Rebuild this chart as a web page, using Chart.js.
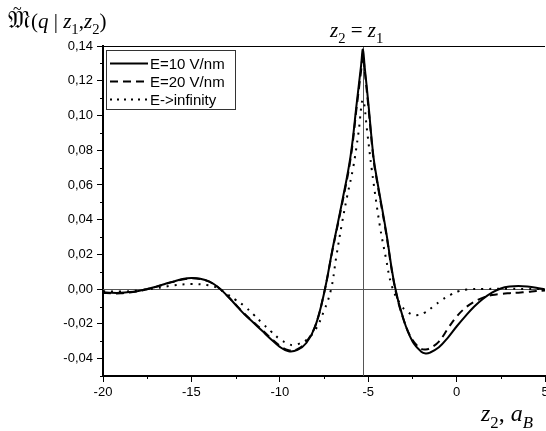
<!DOCTYPE html>
<html>
<head>
<meta charset="utf-8">
<script src="https://cdn.jsdelivr.net/npm/chart.js@4.4.0/dist/chart.umd.min.js"></script>
<style>
    html, body { margin: 0; padding: 0; background: #fff; overflow: hidden; }
</style>
</head>
<body>
<canvas id="grafico" width="560" height="431"></canvas>
<script>
// Datos
const zCurvas = [-20, -19.5, -19, -18.5, -18, -17.5, -17, -16.5, -16, -15.5, -15, -14.5, -14, -13.5, -13, -12.5, -12, -11.5, -11, -10.5, -10, -9.5, -9, -8.5, -8, -7.5, -7, -6.5, -6, -5.65, -5.4, -5.3, -5.2, -5, -4.7, -4.5, -4, -3.5, -3, -2.5, -2, -1.75, -1.5, -1, -0.5, 0, 0.5, 1, 1.5, 2, 2.5, 3, 3.5, 4, 4.5, 5];
const mE10 = [-0.0018, -0.0021, -0.0021, -0.0017, -0.0010, 0.0001, 0.0014, 0.0030, 0.0045, 0.0058, 0.0064, 0.0060, 0.0045, 0.0012, -0.0035, -0.0090, -0.0145, -0.0192, -0.0240, -0.0288, -0.0332, -0.0358, -0.0350, -0.0310, -0.0215, -0.0025, 0.0240, 0.0490, 0.0765, 0.1070, 0.1290, 0.1380, 0.1280, 0.1080, 0.0760, 0.0630, 0.0340, 0.0020, -0.0175, -0.0300, -0.0360, -0.0370, -0.0365, -0.0335, -0.0280, -0.0215, -0.0155, -0.0100, -0.0055, -0.0020, 0.0004, 0.0015, 0.0018, 0.0015, 0.0008, -0.0002];
const mE20 = [-0.0022, -0.0024, -0.0024, -0.0019, -0.0012, 0.0000, 0.0013, 0.0029, 0.0043, 0.0056, 0.0062, 0.0058, 0.0043, 0.0011, -0.0035, -0.0088, -0.0142, -0.0188, -0.0235, -0.0282, -0.0325, -0.0352, -0.0345, -0.0303, -0.0213, -0.0025, 0.0235, 0.0480, 0.0750, 0.1050, 0.1260, 0.1350, 0.1260, 0.1060, 0.0750, 0.0620, 0.0330, 0.0015, -0.0175, -0.0292, -0.0343, -0.0347, -0.0340, -0.0302, -0.0228, -0.0158, -0.0107, -0.0072, -0.0049, -0.0034, -0.0027, -0.0023, -0.0020, -0.0016, -0.0011, -0.0007];
const zInf = [-20, -19, -18, -17, -16, -15, -14, -13.5, -13, -12.5, -12, -11.5, -11, -10.5, -10, -9.5, -9.25, -9, -8.5, -8, -7.5, -7.1, -6.8, -6.5, -6.2, -5.85, -5.55, -5.3, -5.05, -4.8, -4.35, -4, -3.67, -3.2, -2.75, -2.3, -1.8, -1.3, -0.85, -0.35, 0.1, 0.6, 1.5, 3, 4, 5];
const mInf = [-0.0012, -0.0014, -0.0008, 0.0005, 0.0022, 0.0029, 0.0022, 0.0005, -0.0027, -0.0062, -0.0098, -0.0145, -0.0195, -0.0243, -0.0288, -0.0316, -0.0323, -0.0318, -0.0293, -0.0236, -0.0125, 0.0000, 0.0190, 0.0370, 0.0530, 0.0700, 0.0900, 0.1090, 0.0900, 0.0690, 0.0370, 0.0180, 0.0020, -0.0083, -0.0133, -0.0150, -0.0135, -0.0098, -0.0063, -0.0033, -0.0012, -0.0002, 0.0001, 0.0002, 0.0001, 0.0000];
const etiquetas = ['E=10 V/nm', 'E=20 V/nm', 'E->infinity'];
const zPico = -5.3; // posición z2 = z1

const xMin = -20, xMax = 5, xPaso = 5;
const yMin = -0.05, yMax = 0.14, yPaso = 0.02;

function puntos(xs, ys) {
    return xs.map((x, i) => ({ x: x, y: ys[i] }));
}

// Dibuja un texto con subíndices: partes = [[texto, 'n' | 's', cursiva]]
function textoCompuesto(ctx, partes, x, y, tam) {
    partes.forEach(p => {
        const sub = p[1] === 's';
        const t = sub ? tam * 0.7 : tam;
        ctx.font = (p[2] ? 'italic ' : '') + t + 'px "Liberation Serif", "Times New Roman", serif';
        ctx.fillText(p[0], x, sub ? y + tam * 0.28 : y);
        x += ctx.measureText(p[0]).width;
    });
    return x;
}

const decoraciones = {
    id: 'decoraciones',
    beforeDatasetsDraw(chart) {
        const { ctx, chartArea: a, scales: { x, y } } = chart;
        ctx.save();
        // línea del cero y línea vertical en z2 = z1
        ctx.strokeStyle = '#555';
        ctx.lineWidth = 1;
        const y0 = Math.round(y.getPixelForValue(0)) + 0.5;
        ctx.beginPath(); ctx.moveTo(a.left, y0); ctx.lineTo(a.right, y0); ctx.stroke();
        const xv = Math.round(x.getPixelForValue(zPico)) + 0.5;
        ctx.beginPath(); ctx.moveTo(xv, a.top); ctx.lineTo(xv, a.bottom); ctx.stroke();
        // marco superior
        ctx.strokeStyle = '#000';
        ctx.beginPath(); ctx.moveTo(a.left, a.top + 0.5); ctx.lineTo(a.right, a.top + 0.5); ctx.stroke();
        // marcas menores
        for (let v = yMin; v < yMax; v += yPaso) {
            const py = Math.round(y.getPixelForValue(v)) + 0.5;
            ctx.beginPath(); ctx.moveTo(a.left - 3, py); ctx.lineTo(a.left, py); ctx.stroke();
        }
        for (let v = xMin + xPaso / 2; v < xMax; v += xPaso) {
            const px = Math.round(x.getPixelForValue(v)) + 0.5;
            ctx.beginPath(); ctx.moveTo(px, a.bottom); ctx.lineTo(px, a.bottom + 3); ctx.stroke();
        }
        ctx.restore();
    },
    afterDraw(chart) {
        const { ctx } = chart;
        ctx.save();
        ctx.textBaseline = 'alphabetic';
        // leyenda
        ctx.fillStyle = '#fff';
        ctx.fillRect(106, 50, 129, 59);
        ctx.strokeStyle = '#333';
        ctx.lineWidth = 1;
        ctx.strokeRect(106.5, 50.5, 129, 59);
        const estilos = [[], [8, 5], [2, 5]];
        etiquetas.forEach((txt, i) => {
            const fy = 63 + i * 18 + 0.5;
            ctx.strokeStyle = '#000';
            ctx.lineWidth = 2;
            ctx.setLineDash(estilos[i]);
            ctx.beginPath(); ctx.moveTo(110, fy); ctx.lineTo(148, fy); ctx.stroke();
            ctx.setLineDash([]);
            ctx.fillStyle = '#000';
            ctx.font = '15px "Liberation Sans", Arial, sans-serif';
            ctx.fillText(txt, 150, fy + 5);
        });
        // título del eje y
        ctx.fillStyle = '#000';
        ctx.font = '24px "DejaVu Serif", serif';
        ctx.fillText('\u{1D510}', 8, 28);
        ctx.font = '16px "Liberation Serif", serif';
        ctx.fillText('~', 13, 14);
        textoCompuesto(ctx, [['(', 'n', false], ['q', 'n', true], [' | ', 'n', false], ['z', 'n', true], ['1', 's', false],
            [',', 'n', false], ['z', 'n', true], ['2', 's', false], [')', 'n', false]], 31, 28, 21);
        // etiqueta z2 = z1
        textoCompuesto(ctx, [['z', 'n', true], ['2', 's', false], [' = ', 'n', false], ['z', 'n', true], ['1', 's', false]], 330, 37, 21);
        // título del eje x
        textoCompuesto(ctx, [['z', 'n', true], ['2', 's', false], [', ', 'n', false], ['a', 'n', true], ['B', 's', true]], 481, 421, 24);
        ctx.restore();
    }
};

new Chart(document.getElementById('grafico'), {
    type: 'scatter',
    data: {
        datasets: [
            { label: etiquetas[0], data: puntos(zCurvas, mE10), borderColor: '#000', borderWidth: 2, borderDash: [] },
            { label: etiquetas[1], data: puntos(zCurvas, mE20), borderColor: '#000', borderWidth: 2, borderDash: [8, 5] },
            { label: etiquetas[2], data: puntos(zInf, mInf), borderColor: '#000', borderWidth: 2, borderDash: [2, 6] }
        ].map(d => Object.assign(d, { showLine: true, pointRadius: 0, tension: 0.4, fill: false }))
    },
    options: {
        responsive: false,
        animation: false,
        layout: { padding: { top: 46, right: 15, left: 0, bottom: 0 } },
        plugins: { legend: { display: false }, tooltip: { enabled: false } },
        scales: {
            x: {
                type: 'linear', min: xMin, max: xMax,
                afterFit: s => { s.height = 55; },
                ticks: { stepSize: xPaso, color: '#000', padding: 3, maxRotation: 0,
                    font: { family: '"Liberation Sans", Arial, sans-serif', size: 13 } },
                grid: { drawOnChartArea: false, drawTicks: true, tickLength: 6, color: '#000' },
                border: { display: true, color: '#000', width: 2 }
            },
            y: {
                min: yMin, max: yMax,
                afterFit: s => { s.width = 103; },
                ticks: { stepSize: yPaso, includeBounds: false, color: '#000', padding: 4,
                    font: { family: '"Liberation Sans", Arial, sans-serif', size: 13 },
                    callback: v => v.toFixed(2).replace('.', ',') },
                grid: { drawOnChartArea: false, drawTicks: true, tickLength: 6, color: '#000' },
                border: { display: true, color: '#000', width: 2 }
            }
        }
    },
    plugins: [decoraciones]
});
</script>
</body>
</html>
